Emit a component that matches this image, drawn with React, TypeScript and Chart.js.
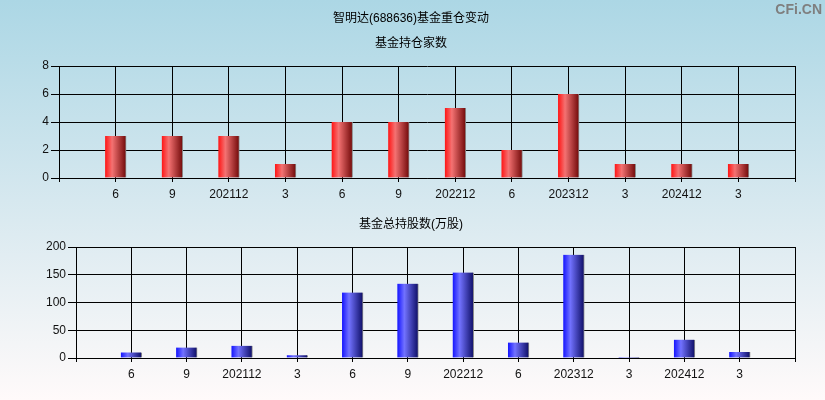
import React, { useEffect, useRef } from "react";
import { Chart, registerables } from "chart.js";

Chart.register(...registerables);

// ---- data ----
const categories = ["6", "9", "202112", "3", "6", "9", "202212", "6", "202312", "3", "202412", "3"];
const fundCounts = [3, 3, 3, 1, 4, 4, 5, 2, 6, 1, 1, 1];
const totalShares = [10, 19, 22, 5, 118, 134, 154, 28, 186, 2, 33, 11];
const countAxisMax = 8;
const countAxisStep = 2;
const sharesAxisMax = 200;
const sharesAxisStep = 50;

const mainTitle = "智明达(688636)基金重仓变动";
const countTitle = "基金持仓家数";
const sharesTitle = "基金总持股数(万股)";

const RED = ["#ff1414", "#f47272", "#7a1010"];
const BLUE = ["#1414ff", "#7272ff", "#141470"];

const FONT_FAMILY = '"Liberation Sans", Arial, "Noto Sans CJK SC", sans-serif';

const barFill = (colors: string[]) => (c: any) => {
  const chart = c.chart;
  const xs = chart && chart.scales ? chart.scales.x : null;
  if (!xs || c.dataIndex == null) return colors[0];
  const cx = xs.getPixelForValue(c.dataIndex);
  if (!Number.isFinite(cx)) return colors[0];
  const g = chart.ctx.createLinearGradient(cx - 10.5, 0, cx + 9.5, 0);
  g.addColorStop(0, colors[0]);
  g.addColorStop(0.35, colors[1]);
  g.addColorStop(1, colors[2]);
  return g;
};

type PanelProps = {
  values: number[];
  max: number;
  step: number;
  yWidth: number;
  areaTop: number;
  xHeight: number;
  colors: string[];
  top: number;
};

function BarPanel({ values, max, step, yWidth, areaTop, xHeight, colors, top }: PanelProps) {
  const ref = useRef<HTMLCanvasElement | null>(null);
  useEffect(() => {
    if (!ref.current) return;
    const font = { family: FONT_FAMILY, size: 12 };
    const chart = new Chart(ref.current, {
      type: "bar",
      data: {
        labels: ["", ...categories, ""],
        datasets: [
          {
            data: [null, ...values, null] as any,
            backgroundColor: barFill(colors) as any,
            borderColor: "#8a8a8a",
            borderWidth: { left: 0, top: 0, right: 1, bottom: 0 } as any,
            barThickness: 21,
          },
        ],
      },
      options: {
        responsive: false,
        animation: false,
        layout: { padding: { top: areaTop, right: 30, left: 0, bottom: 0 } },
        plugins: {
          legend: { display: false },
          tooltip: { enabled: false },
          title: { display: false },
        },
        scales: {
          x: {
            type: "category",
            offset: false,
            grid: { color: "#000", lineWidth: 1, tickLength: 4, offset: false, drawTicks: true },
            border: { color: "#000", width: 1 },
            ticks: { color: "#111", font, padding: 5, maxRotation: 0, autoSkip: false },
            afterFit: (s: any) => {
              s.height = xHeight;
            },
          },
          y: {
            min: 0,
            max,
            ticks: { stepSize: step, color: "#111", font, padding: 2 },
            grid: { color: "#000", lineWidth: 1, tickLength: 8 },
            border: { color: "#000", width: 1 },
            afterFit: (s: any) => {
              s.width = yWidth;
            },
          },
        },
      },
    } as any);
    chart.update();
    return () => chart.destroy();
  }, []);
  return (
    <canvas
      ref={ref}
      width={825}
      height={200}
      style={{ position: "absolute", left: 0, top, width: 825, height: 200 }}
    />
  );
}

const textStyle = (top: number): React.CSSProperties => ({
  position: "absolute",
  left: 0,
  width: 822,
  top,
  textAlign: "center",
  fontFamily: FONT_FAMILY,
  fontSize: 12,
  lineHeight: "14px",
  color: "#000",
  whiteSpace: "nowrap",
});

export default function App() {
  useEffect(() => {
    document.body.style.margin = "0";
  }, []);
  return (
    <div
      style={{
        position: "relative",
        width: 825,
        height: 400,
        overflow: "hidden",
        background: "linear-gradient(to bottom, #acd7e5 0%, #d6e8ef 50%, #fffafa 100%)",
      }}
    >
      <BarPanel
        values={fundCounts}
        max={countAxisMax}
        step={countAxisStep}
        yWidth={59}
        areaTop={66}
        xHeight={22}
        colors={RED}
        top={0}
      />
      <BarPanel
        values={totalShares}
        max={sharesAxisMax}
        step={sharesAxisStep}
        yWidth={76}
        areaTop={47}
        xHeight={42}
        colors={BLUE}
        top={200}
      />
      <div style={textStyle(11)}>{mainTitle}</div>
      <div style={textStyle(36)}>{countTitle}</div>
      <div style={textStyle(217)}>{sharesTitle}</div>
      <div
        style={{
          position: "absolute",
          right: 3,
          top: 1,
          fontFamily: FONT_FAMILY,
          fontWeight: "bold",
          fontSize: 14,
          lineHeight: "16px",
          color: "#7f7f7f",
        }}
      >
        CFi.CN
      </div>
    </div>
  );
}
